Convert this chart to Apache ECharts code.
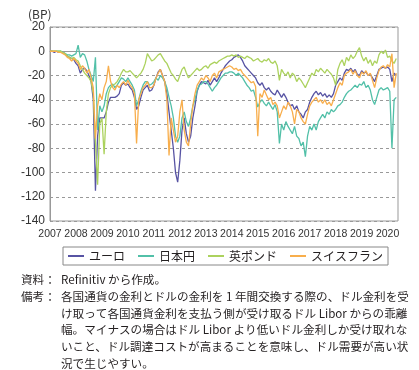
<!DOCTYPE html>
<html><head><meta charset="utf-8">
<script src="https://cdn.jsdelivr.net/npm/echarts@6/dist/echarts.min.js"></script>
<style>html,body{margin:0;padding:0;background:#fff}#c{width:419px;height:370px}</style>
</head><body><div id="c"></div>
<script>
// Monthly values, Jan 2007 .. May 2020 (BP)
const startYear = 2007;
const seriesNames = ['ユーロ', '日本円', '英ポンド', 'スイスフラン'];
const euro = [
  0,0,-1,0,-1,0,-1,-2,-4,-5,-6,-7,
  -10,-12,-18,-15,-14,-16,-20,-25,-40,-115,-70,-55,
  -55,-55,-50,-42,-38,-38,-38,-37,-35,-28,-26,-28,
  -27,-30,-32,-38,-48,-45,-38,-32,-30,-28,-33,-32,
  -28,-22,-17,-15,-20,-25,-35,-50,-65,-80,-100,-108,
  -90,-65,-55,-68,-75,-70,-55,-45,-33,-28,-25,-26,
  -27,-24,-28,-25,-22,-25,-22,-18,-15,-12,-10,-8,
  -7,-5,-4,-3,-5,-8,-12,-14,-16,-18,-20,-22,
  -26,-28,-26,-30,-32,-30,-33,-35,-36,-32,-35,-38,
  -35,-38,-42,-45,-44,-48,-45,-50,-52,-55,-50,-48,
  -42,-38,-35,-33,-36,-34,-37,-35,-38,-36,-38,-35,
  -28,-25,-22,-24,-18,-15,-16,-14,-17,-15,-19,-20,
  -16,-18,-17,-20,-19,-22,-25,-20,-15,-14,-13,-14,
  -13,-15,-25,-18,-20
];
const yen = [
  0,0,0,0,0,0,-1,-2,-3,-3,-4,-3,
  -2,5,-5,-2,-3,-8,-15,-20,-25,-5,-65,-45,
  -50,-45,-35,-30,-28,-27,-30,-28,-25,-22,-23,-25,
  -22,-25,-28,-32,-45,-40,-33,-28,-25,-25,-28,-27,
  -25,-22,-24,-20,-22,-25,-30,-38,-45,-55,-70,-75,
  -70,-55,-50,-58,-62,-55,-45,-40,-32,-28,-27,-25,
  -25,-27,-30,-33,-30,-28,-25,-22,-20,-18,-18,-17,
  -17,-18,-20,-18,-20,-22,-25,-28,-30,-33,-32,-38,
  -46,-42,-40,-43,-45,-42,-45,-48,-44,-50,-76,-60,
  -65,-58,-62,-65,-68,-62,-70,-72,-78,-75,-87,-70,
  -62,-65,-60,-65,-58,-55,-52,-55,-50,-52,-48,-50,
  -48,-45,-44,-42,-38,-35,-33,-32,-30,-28,-30,-27,
  -28,-25,-30,-28,-32,-40,-44,-38,-32,-30,-32,-31,
  -30,-33,-80,-40,-38
];
const pound = [
  0,0,0,0,0,0,-1,-2,-4,-5,-6,-5,
  -7,-8,-12,-15,-18,-20,-22,-25,-35,-75,-110,-60,
  -55,-85,-50,-35,-30,-28,-27,-25,-22,-18,-15,-17,
  -17,-16,-18,-20,-22,-20,-18,-15,-10,-2,-5,-8,
  -7,-5,-3,-2,-5,-8,-10,-14,-18,-20,-23,-25,
  -20,-15,-13,-18,-22,-20,-18,-16,-14,-16,-15,-13,
  -12,-14,-11,-10,-9,-10,-8,-7,-6,-5,-4,-4,
  -3,-4,-3,-5,-4,-5,-6,-4,-5,-6,-8,-7,
  -6,-8,-9,-7,-8,-6,-9,-10,-8,-12,-24,-15,
  -18,-20,-17,-22,-18,-20,-25,-22,-24,-27,-30,-26,
  -22,-18,-20,-15,-17,-14,-16,-18,-15,-17,-19,-22,
  -28,-15,-10,-7,-12,-5,-8,-3,-6,-4,0,3,
  -4,-8,-5,-10,-7,-12,-8,-10,-3,0,-2,1,
  -5,-4,-8,-10,-6
];
const franc = [
  0,0,0,0,-1,-1,-2,-3,-5,-6,-8,-6,
  -8,-10,-15,-12,-14,-18,-15,-22,-30,-72,-45,-35,
  -40,-30,-25,-12,-25,-30,-32,-28,-30,-27,-25,-28,
  -24,-28,-30,-35,-76,-40,-35,-30,-28,-25,-30,-30,
  -28,-22,-18,-15,-20,-25,-40,-86,-55,-65,-75,-70,
  -50,-40,-65,-75,-78,-60,-45,-35,-28,-25,-22,-24,
  -20,-22,-25,-20,-18,-22,-17,-16,-15,-14,-13,-12,
  -13,-15,-14,-16,-15,-18,-20,-22,-24,-26,-25,-29,
  -70,-35,-38,-32,-36,-40,-38,-44,-42,-45,-55,-50,
  -45,-48,-42,-45,-50,-60,-48,-50,-55,-58,-60,-52,
  -45,-42,-40,-38,-42,-40,-43,-40,-44,-42,-45,-40,
  -35,-30,-26,-28,-20,-18,-17,-15,-19,-16,-20,-22,
  -17,-19,-16,-20,-18,-24,-30,-22,-16,-13,-12,-14,
  -11,-13,-2,-30,-18
];
const colors = ['#5753a3', '#52c0a8', '#acd25e', '#f8ae4c'];
const unitLabel = '(BP)';
const notePrefixes = ['資料：', '備考：'];
const noteLines = [
  'Refinitiv から作成。',
  '各国通貨の金利とドルの金利を 1 年間交換する際の、ドル金利を受',
  'け取って各国通貨金利を支払う側が受け取るドル Libor からの乖離',
  '幅。マイナスの場合はドル Libor より低いドル金利しか受け取れな',
  'いこと、ドル調達コストが高まることを意味し、ドル需要が高い状',
  '況で生じやすい。'
];

const tickFont = "'Liberation Sans',Arial,sans-serif";
const jpFont = "'Noto Sans CJK JP',sans-serif";

function toXY(arr) { return arr.map((v, i) => [startYear + i / 12, v]); }

const allData = [euro, yen, pound, franc];
const series = allData.map((d, k) => ({
  name: seriesNames[k],
  type: 'line',
  data: toXY(d),
  showSymbol: false,
  symbol: 'none',
  lineStyle: { width: 1.3, color: colors[k] },
  itemStyle: { color: colors[k] },
  z: 3 + k,
  animation: false
}));
series[0].markLine = {
  silent: true, symbol: 'none', label: { show: false }, animation: false,
  lineStyle: { color: '#999', type: 'solid', width: 1 },
  data: [{ yAxis: 0 }], z: 1
};

const graphics = [
  { type: 'text', left: 28, top: 8, style: { text: unitLabel, font: '12px ' + jpFont, fill: '#333' } }
];
notePrefixes.forEach((t, i) => {
  graphics.push({
    type: 'text', left: 21, top: 274 + i * 16.7,
    style: { text: t, font: '11.6px ' + jpFont, fill: '#231f20' }
  });
});
noteLines.forEach((t, i) => {
  graphics.push({
    type: 'text', left: 61, top: 274 + i * 16.7,
    style: { text: t, font: '11.6px ' + jpFont, fill: '#231f20' }
  });
});

const chart = echarts.init(document.getElementById('c'), null, { renderer: 'canvas' });
chart.setOption({
  animation: false,
  color: colors,
  grid: { left: 50, right: 21, top: 27, bottom: 149, show: true, borderColor: '#999', borderWidth: 1 },
  xAxis: {
    type: 'value', min: 2007, max: 2020.4, interval: 1,
    axisLine: { show: true, lineStyle: { color: '#999' } },
    axisTick: { show: false },
    splitLine: { show: false },
    axisLabel: {
      color: '#333', fontSize: 10.5, fontFamily: tickFont, margin: 8,
      showMaxLabel: false, hideOverlap: false,
      formatter: v => (Math.abs(v - Math.round(v)) < 1e-6 ? String(Math.round(v)) : '')
    }
  },
  yAxis: {
    type: 'value', min: -140, max: 20, interval: 20,
    axisLine: { show: true, lineStyle: { color: '#999' } },
    axisTick: { show: false },
    splitLine: { show: true, lineStyle: { color: '#999', type: [3, 3], width: 1 } },
    axisLabel: { color: '#333', fontSize: 12, fontFamily: tickFont, margin: 5 }
  },
  legend: {
    data: seriesNames,
    left: 63, top: 247,
    icon: 'rect', itemWidth: 16, itemHeight: 2, itemGap: 13,
    borderColor: '#888', borderWidth: 1, padding: [3, 5, 3, 5],
    textStyle: { fontSize: 12, fontFamily: jpFont, color: '#231f20' }
  },
  graphic: graphics,
  series: series
});
</script></body></html>
